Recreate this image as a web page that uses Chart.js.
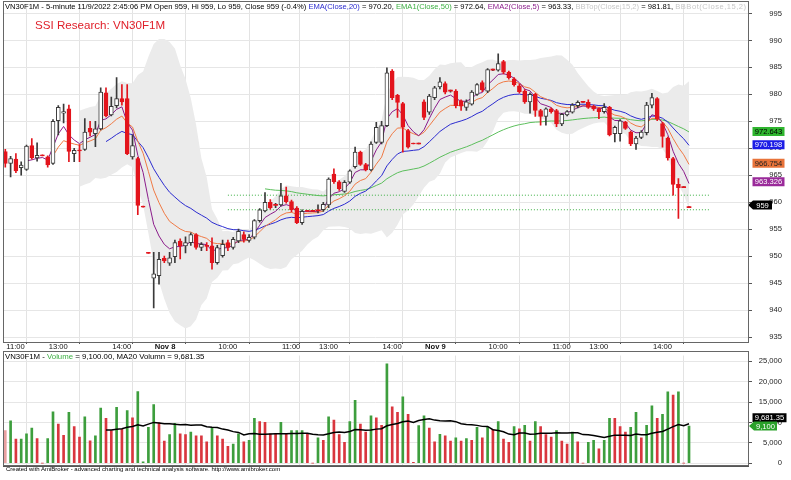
<!DOCTYPE html>
<html>
<head>
<meta charset="utf-8">
<script src="https://cdn.jsdelivr.net/npm/chart.js@4.4.0/dist/chart.umd.min.js"></script>
<style>
  body { margin: 0; background: #fff; width: 791px; height: 480px; overflow: hidden; position: relative; font-family: Arial, "Liberation Sans", sans-serif; }
  canvas { position: absolute; left: 0; }
  #priceChart { top: 0; }
  #volChart { top: 351px; }
  .txt { position: absolute; white-space: nowrap; font-size: 7.6px; color: #000; }
  .box { position: absolute; border: 1px solid #666; box-sizing: border-box; pointer-events: none; }
</style>
</head>
<body>
<canvas id="priceChart" width="791" height="351"></canvas>
<canvas id="volChart" width="791" height="129"></canvas>
<div class="box" style="left:3px;top:1px;width:746px;height:342px"></div>
<div class="box" style="left:3px;top:351px;width:746px;height:115px"></div>
<div class="txt" style="left:5px;top:2px;width:741px;overflow:hidden">VN30F1M - 5-minute 11/9/2022 2:45:06 PM Open 959, Hi 959, Lo 959, Close 959 (-0.4%) <span style="color:#2b2bd0">EMA(Close,20)</span> = 970.20, <span style="color:#3cb043">EMA1(Close,50)</span> = 972.64, <span style="color:#8b1c8b">EMA2(Close,5)</span> = 963.33, <span style="color:#c8c8c8">BBTop(Close,15,2)</span> = 981.81, <span style="color:#c8c8c8;letter-spacing:0.5px">BBBot(Close,15,2)</span> = 950.12</div>
<div class="txt" style="left:35px;top:18px;font-size:11.6px;color:#e0202a">SSI Research: VN30F1M</div>
<div class="txt" style="left:5px;top:352px;font-size:7.8px">VN30F1M - <span style="color:#3cb043">Volume</span> = 9,100.00, MA20 Volumn = 9,681.35</div>
<div class="txt" style="left:6px;top:466px;font-size:6px">Created with AmiBroker - advanced charting and technical analysis software. http://www.amibroker.com</div>
<script>
// 5-minute bars, index 0 = first bar on screen (Nov 7 ~11:00)
const openP = [969.4,967.2,968.0,966.4,966.1,970.5,968.2,968.7,968.4,967.2,
  975.1,976.5,977.3,969.0,969.7,969.8,973.7,972.7,973.6,980.3,
  976.2,977.9,979.2,979.2,968.4,968.1,959.2,950.6,945.9,946.4,
  949.6,948.7,949.9,952.8,951.9,952.5,954.0,951.6,952.0,951.9,
  948.8,950.1,952.5,951.6,952.8,954.0,952.9,953.5,956.6,958.4,
  960.0,959.4,959.5,961.2,960.1,958.9,956.2,958.5,958.3,958.4,
  958.6,959.5,965.2,963.8,962.0,963.7,966.6,969.3,967.0,966.0,
  971.1,971.1,974.2,984.3,979.8,978.3,973.3,970.9,970.8,978.6,
  976.7,979.4,981.4,982.0,980.6,980.6,978.8,977.6,978.2,980.0,
  982.2,980.6,984.5,984.5,986.1,984.1,982.9,981.6,980.6,978.6,
  980.0,977.0,975.9,977.3,977.0,974.5,976.2,976.7,977.9,978.5,
  978.5,977.8,977.3,976.8,977.6,972.7,972.7,974.9,973.0,970.8,
  972.0,972.9,978.0,979.2,974.6,971.9,968.1,963.3,962.7,959.0];
const highP = [969.8,968.5,969.0,967.5,970.6,971.8,971.0,968.7,968.6,975.3,
  977.9,978.2,978.0,970.0,970.7,975.5,975.0,975.0,981.2,981.2,
  979.5,983.1,981.8,981.8,972.5,968.3,959.2,950.6,950.7,950.7,
  950.0,950.7,953.0,953.2,953.6,954.3,954.2,952.5,952.5,953.4,
  952.0,953.0,953.0,953.5,955.0,954.5,954.0,956.8,958.8,961.8,
  960.5,959.8,963.5,962.8,960.4,959.2,958.6,958.5,958.3,959.5,
  960.0,964.5,966.2,964.0,964.0,966.0,970.2,969.5,967.2,971.2,
  974.8,975.0,984.9,984.6,980.0,978.5,973.5,970.9,970.8,979.0,
  980.0,981.5,983.1,982.3,980.8,980.9,979.0,979.0,980.7,982.0,
  982.5,984.8,984.7,987.5,986.3,984.3,983.1,981.9,980.9,980.3,
  980.2,977.2,977.5,977.5,977.2,976.5,977.0,978.3,978.8,978.5,
  979.0,978.0,977.5,978.3,977.8,974.1,975.3,975.0,973.2,972.2,
  973.3,978.5,980.2,979.4,974.8,972.1,968.3,964.4,962.7,959.0];
const lowP = [966.5,964.7,965.5,965.0,965.9,968.0,967.6,968.6,966.5,967.0,
  972.5,974.7,967.5,967.5,967.5,969.6,972.3,970.3,973.4,975.8,
  976.0,977.5,978.0,968.8,968.0,957.7,959.1,950.5,940.4,944.8,
  948.8,948.3,948.8,949.5,950.6,952.0,951.3,951.0,951.0,947.6,
  948.5,949.8,951.0,951.3,952.5,952.6,952.6,953.2,956.3,958.2,
  958.7,959.0,959.3,959.8,958.2,956.0,955.9,958.3,958.3,958.0,
  958.3,959.0,963.5,962.2,961.8,963.5,966.3,966.8,965.8,965.8,
  970.9,970.8,974.0,979.0,975.7,969.3,970.0,970.8,970.8,975.3,
  976.3,979.0,981.0,980.1,980.4,977.5,977.0,977.0,978.0,979.8,
  980.5,980.3,984.4,984.3,983.8,982.8,981.5,980.2,978.3,976.5,
  975.9,974.3,974.3,976.5,974.0,974.2,976.0,976.5,977.5,978.5,
  977.4,977.0,975.5,976.5,972.3,971.2,971.3,973.5,970.5,969.8,
  971.8,972.5,977.5,975.1,970.2,967.8,961.3,957.0,962.7,959.0];
const closeP = [967.2,968.1,965.8,966.9,970.4,968.2,968.7,968.6,966.9,975.0,
  977.6,976.8,969.4,969.6,969.5,973.0,973.0,973.6,980.4,976.0,
  977.8,979.2,978.6,969.0,970.5,959.4,959.1,950.5,946.7,949.4,
  949.1,949.7,952.5,951.9,952.5,954.0,951.6,952.2,951.8,948.8,
  951.6,952.2,951.6,953.1,954.6,953.1,953.5,956.6,958.6,960.0,
  959.0,959.4,961.2,960.1,958.6,956.2,958.3,958.3,958.3,958.4,
  959.6,964.3,963.8,962.5,963.7,965.8,969.3,967.0,966.0,970.8,
  973.9,974.2,984.0,979.4,978.5,973.9,970.2,970.8,970.8,975.7,
  979.7,981.2,982.3,980.4,980.6,977.9,977.8,978.6,980.4,981.8,
  980.8,984.6,984.5,985.7,984.1,983.1,981.8,980.5,978.6,980.0,
  977.0,975.9,977.3,976.8,974.5,976.3,976.8,978.0,978.5,978.5,
  977.6,977.3,976.8,977.6,972.5,973.9,975.1,973.7,970.8,971.9,
  973.0,978.0,979.4,975.4,972.2,968.2,963.3,962.7,962.7,959.0];
const volume = [8000,10400,5900,5900,7200,8600,6000,0,6000,12600,
  9600,6800,12500,9000,6400,11400,5500,6700,13500,11000,
  8000,13700,8300,12900,11100,17600,300,8800,14400,9900,
  5400,7000,9800,7200,7000,7600,6700,6700,5200,8600,
  6700,5900,4100,4700,7200,5200,5600,11000,10200,10000,
  7200,7200,10000,7200,8000,8000,8000,7200,0,6200,
  5600,11400,10600,7000,5100,10200,15400,9600,7600,11600,
  11100,9300,24400,13800,12500,16300,12000,200,9200,11600,
  8600,5200,7100,6700,5400,6200,5400,6000,5600,8800,
  6200,8800,8300,10200,5900,5100,9000,8400,9300,5400,
  10200,9000,7000,6400,8000,5400,4700,7600,5200,0,
  5100,5600,3500,5600,11000,11000,9000,7600,8800,12500,
  6200,9300,14100,11000,12000,17500,16700,17500,0,9100];
// volume bar side: G = up volume, R = down volume, L = pale
const volSide = [
  'L','G','R','G','G','G','R','R','G','G',
  'R','R','G','R','R','G','R','G','G','R',
  'R','G','R','G','R','G','G','G','G','R',
  'R','G','G','R','R','G','R','R','R','G',
  'R','R','R','G','G','R','G','G','R','R',
  'R','R','G','R','G','G','G','R','R','G',
  'R','G','R','R','R','G','G','R','R','G',
  'R','R','G','R','R','G','R','R','G','G',
  'R','R','G','R','R','G','R','G','R','G',
  'R','G','R','G','R','R','G','R','G','R',
  'G','R','R','R','G','R','R','G','R','R',
  'G','G','R','G','G','R','R','R','G','G',
  'R','G','G','R','G','G','R','G','R','G'];
const tickIdx = [0, 8, 20, 28, 40, 52, 59, 71, 79, 91, 103, 110, 122];
const tickText = ['11:00', '13:00', '14:00', 'Nov 8', '10:00', '11:00', '13:00', '14:00', 'Nov 9', '10:00', '11:00', '13:00', '14:00'];
const volTicks = [0, 5000, 10000, 15000, 20000, 25000];
const levels = [961.3, 958.6];
const levelFrom = 42, levelTo = 133;
const priceTags = [972.643, 970.198, 966.754, 963.326];
const lastPrice = 959;
const volMaLast = 9681.35, volLast = 9100;

// indicators, computed the way AmiBroker does from the closes above
function ema(src, p) {
  const out = src.map(() => null);
  let s = 0;
  for (let i = 0; i < p; i++) s += src[i];
  let e = s / p; out[p - 1] = e;
  const k = 2 / (p + 1);
  for (let i = p; i < src.length; i++) { e = src[i] * k + e * (1 - k); out[i] = e; }
  return out;
}
function sma(src, p) {
  return src.map((v, i) => {
    if (i < p - 1) return null;
    let s = 0;
    for (let j = i - p + 1; j <= i; j++) s += src[j];
    return s / p;
  });
}
function bands(src, p, w) {
  const m = sma(src, p);
  const top = [], bot = [];
  src.forEach((v, i) => {
    if (m[i] === null) { top.push(null); bot.push(null); return; }
    let q = 0;
    for (let j = i - p + 1; j <= i; j++) q += (src[j] - m[i]) ** 2;
    const sd = Math.sqrt(q / p);
    top.push(m[i] + w * sd); bot.push(m[i] - w * sd);
  });
  return [top, bot];
}
const pts = arr => arr.map((v, i) => ({ x: i, y: v })).filter(p => p.y !== null);

const ema5 = ema(closeP, 5), ema10 = ema(closeP, 10), ema20 = ema(closeP, 20), ema50 = ema(closeP, 50);
const [bbTop, bbBot] = bands(closeP, 15, 2);
const volMa = sma(volume, 20);

const RED = '#e3141c', DARK = '#3a3a3a';
const isDown = i => closeP[i] < openP[i];
const isFlat = i => closeP[i] === openP[i];

const X_MIN = -0.434, X_MAX = 140.13;
const xTicks = scale => { scale.ticks = tickIdx.map(v => ({ value: v })); };
const font = { family: 'Arial, "Liberation Sans", sans-serif', size: 7.6 };

function drawTag(ctx, x, y, w, text, bg, fg, arrow) {
  const h = 9;
  ctx.fillStyle = bg;
  ctx.beginPath();
  if (arrow) {
    ctx.moveTo(x, y); ctx.lineTo(x + 5, y - h / 2); ctx.lineTo(x + w, y - h / 2);
    ctx.lineTo(x + w, y + h / 2); ctx.lineTo(x + 5, y + h / 2); ctx.closePath();
  } else {
    ctx.rect(x, y - h / 2, w, h);
  }
  ctx.fill();
  ctx.fillStyle = fg;
  ctx.textAlign = 'center';
  ctx.textBaseline = 'middle';
  ctx.fillText(text, x + (arrow ? w / 2 + 2.5 : w / 2), y + 0.5);
}

const priceTagPlugin = {
  id: 'priceTags',
  afterDraw(chart) {
    const ctx = chart.ctx, ys = chart.scales.y;
    ctx.save();
    ctx.font = '7.6px Arial, "Liberation Sans", sans-serif';
    const style = [['#2fb52f', '#000'], ['#1c1ce6', '#fff'], ['#e8733a', '#222'], ['#9a2a9a', '#fff']];
    priceTags.forEach((v, k) => {
      drawTag(ctx, 752.5, ys.getPixelForValue(v) - 2.5, 32, v.toFixed(3), style[k][0], style[k][1], false);
    });
    drawTag(ctx, 748, ys.getPixelForValue(lastPrice) - 2.5, 24, String(lastPrice), '#000', '#fff', true);
    ctx.restore();
  }
};
const volTagPlugin = {
  id: 'volTags',
  afterDraw(chart) {
    const ctx = chart.ctx, ys = chart.scales.y;
    ctx.save();
    ctx.font = '7.6px Arial, "Liberation Sans", sans-serif';
    drawTag(ctx, 752.5, ys.getPixelForValue(volMaLast) - 6, 34, volMaLast.toLocaleString('en-US'), '#000', '#fff', false);
    drawTag(ctx, 749, ys.getPixelForValue(volLast), 28, volLast.toLocaleString('en-US'), '#2aa12a', '#fff', true);
    ctx.restore();
  }
};

const levelLine = y => ({ type: 'line', data: [{ x: levelFrom, y }, { x: levelTo, y }],
  borderColor: '#3cb043', borderWidth: 1, borderDash: [1, 2], pointRadius: 0, order: 8 });

new Chart(document.getElementById('priceChart'), {
  data: {
    datasets: [
      { type: 'line', data: pts(bbBot), borderWidth: 0, pointRadius: 0, fill: false, order: 20 },
      { type: 'line', data: pts(bbTop), borderWidth: 0, pointRadius: 0, fill: '-1', backgroundColor: '#ebebeb', order: 19 },
      levelLine(levels[0]),
      levelLine(levels[1]),
      { type: 'line', data: pts(ema50), borderColor: '#5cbf5c', borderWidth: 1, pointRadius: 0, order: 7 },
      { type: 'line', data: pts(ema20), borderColor: '#2b2bd0', borderWidth: 1, pointRadius: 0, order: 6 },
      { type: 'line', data: pts(ema10), borderColor: '#f07a45', borderWidth: 1, pointRadius: 0, order: 5 },
      { type: 'line', data: pts(ema5), borderColor: '#8b1c8b', borderWidth: 1, pointRadius: 0, order: 4 },
      { type: 'bar', data: closeP.map((c, i) => ({ x: i, y: [lowP[i], highP[i]] })),
        backgroundColor: closeP.map((c, i) => isDown(i) ? RED : DARK),
        barThickness: 1, grouped: false, minBarLength: 1, order: 2 },
      { type: 'bar', data: closeP.map((c, i) => ({ x: i, y: [openP[i], c] })),
        backgroundColor: closeP.map((c, i) => isFlat(i) ? RED : (isDown(i) ? RED : '#fff')),
        borderColor: closeP.map((c, i) => isDown(i) || isFlat(i) ? RED : DARK),
        borderWidth: closeP.map((c, i) => isFlat(i) ? 0 : 1),
        borderSkipped: false, barThickness: 4, grouped: false, minBarLength: 1, order: 1 }
    ]
  },
  options: {
    responsive: false, animation: false, events: [],
    layout: { padding: { left: 3, right: 9, top: 1, bottom: 0 } },
    plugins: { legend: { display: false }, tooltip: { enabled: false } },
    scales: {
      x: {
        type: 'linear', min: X_MIN, max: X_MAX, offset: false,
        afterBuildTicks: xTicks,
        afterFit: s => { s.height = 9; },
        grid: { color: '#e3e3e3', tickLength: 2, tickColor: '#555' },
        border: { color: '#555' },
        ticks: { align: 'start', padding: -2, maxRotation: 0, autoSkip: false, color: '#111', labelOffset: 1,
          font: c => ({ ...font, weight: c.tick && String(tickText[tickIdx.indexOf(c.tick.value)]).startsWith('Nov') ? 'bold' : 'normal' }),
          callback: v => tickText[tickIdx.indexOf(v)] }
      },
      y: {
        position: 'right', min: 934.08, max: 996.65,
        afterFit: s => { s.width = 34; },
        grid: { color: '#e6e6e6', tickLength: 4, tickColor: '#555' },
        border: { color: '#555' },
        ticks: { stepSize: 5, includeBounds: false, crossAlign: 'far', padding: 0, color: '#222', font }
      }
    }
  },
  plugins: [priceTagPlugin]
});

new Chart(document.getElementById('volChart'), {
  data: {
    datasets: [
      { type: 'line', data: pts(volMa), borderColor: '#000', borderWidth: 1.5, pointRadius: 0, order: 1 },
      { type: 'bar', data: volume.map((v, i) => ({ x: i, y: v })),
        backgroundColor: volSide.map(s => s === 'G' ? '#3d9e3d' : (s === 'L' ? '#e9a0a0' : '#d9363e')),
        barThickness: 2, grouped: false, order: 2 }
    ]
  },
  options: {
    responsive: false, animation: false, events: [],
    layout: { padding: { left: 3, right: 9, top: 0, bottom: 14 } },
    plugins: { legend: { display: false }, tooltip: { enabled: false } },
    scales: {
      x: {
        type: 'linear', min: X_MIN, max: X_MAX, offset: false,
        afterBuildTicks: xTicks,
        afterFit: s => { s.height = 0; },
        grid: { color: '#e3e3e3', drawTicks: false },
        border: { color: '#555' },
        ticks: { display: false }
      },
      y: {
        position: 'right', min: -714, max: 26430,
        afterBuildTicks: s => { s.ticks = volTicks.map(v => ({ value: v })); },
        afterFit: s => { s.width = 34; },
        grid: { color: '#e6e6e6', tickLength: 4, tickColor: '#555' },
        border: { color: '#555' },
        ticks: { crossAlign: 'far', padding: 0, color: '#222', font,
          callback: v => v.toLocaleString('en-US') }
      }
    }
  },
  plugins: [volTagPlugin]
});
</script>
</body>
</html>
